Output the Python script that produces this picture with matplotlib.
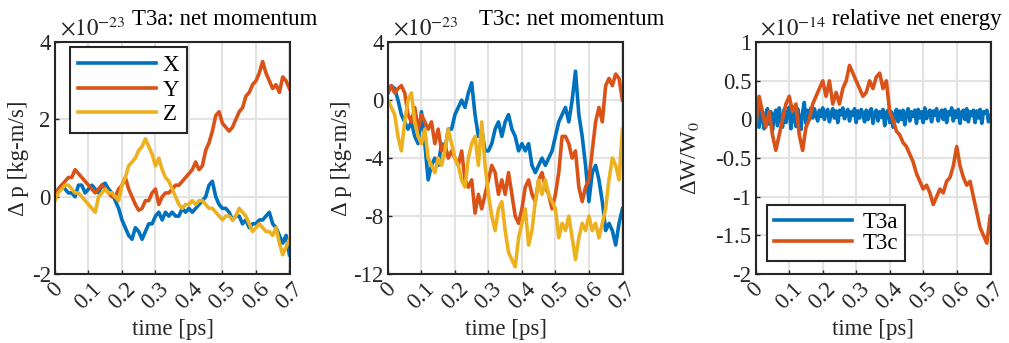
import numpy as np
import matplotlib
matplotlib.use('Agg')
import matplotlib.pyplot as plt

plt.rcParams['font.family'] = ['Liberation Serif', 'DejaVu Serif']
plt.rcParams['mathtext.fontset'] = 'stix'
plt.rcParams['axes.unicode_minus'] = False

# time axis [ps], samples every 0.01 ps (energy of T3a: every 0.005 ps)
t = np.round(np.arange(71) * 0.01, 2)
t_fine = np.round(np.arange(141) * 0.005, 3)
t_ticks = [0, 0.1, 0.2, 0.3, 0.4, 0.5, 0.6, 0.7]
t_labels = ['0', '0.1', '0.2', '0.3', '0.4', '0.5', '0.6', '0.7']

# T3a net momentum (x1e-23 kg-m/s)
t3a_x = [0.0, 0.2, 0.3, 0.2, 0.1, 0.1, 0.0, 0.3, 0.3, 0.1,
         0.2, 0.3, 0.2, 0.1, 0.3, 0.35, 0.2, 0.1, -0.1, -0.3,
         -0.6, -0.8, -1.0, -1.1, -0.8, -0.9, -1.1, -0.9, -0.7, -0.7,
         -0.5, -0.4, -0.6, -0.4, -0.5, -0.4, -0.5, -0.5, -0.3, -0.4,
         -0.3, -0.4, -0.3, -0.2, -0.1, 0.0, 0.3, 0.4, 0.0, -0.2,
         -0.3, -0.3, -0.4, -0.6, -0.5, -0.5, -0.7, -0.6, -0.8, -0.7,
         -0.7, -0.6, -0.6, -0.5, -0.4, -0.7, -0.8, -1.0, -1.2, -1.0, -1.5]
t3a_y = [0.0, 0.2, 0.3, 0.4, 0.5, 0.5, 0.7, 0.6, 0.5, 0.4,
         0.3, 0.2, 0.1, 0.2, 0.3, 0.2, 0.1, 0.0, 0.0, 0.2,
         0.3, 0.5, 0.2, 0.0, -0.2, -0.35, -0.3, -0.1, -0.1, 0.1,
         0.2, -0.2, 0.0, 0.1, 0.1, 0.2, 0.3, 0.3, 0.4, 0.5,
         0.6, 0.7, 0.9, 0.7, 0.8, 1.2, 1.4, 1.7, 2.1, 2.2,
         1.9, 1.8, 1.7, 1.8, 2.0, 2.2, 2.3, 2.6, 2.7, 2.9,
         3.0, 3.2, 3.5, 3.2, 3.0, 2.8, 2.9, 2.7, 3.1, 3.0, 2.8]
t3a_z = [-0.1, 0.1, 0.2, 0.3, 0.3, 0.2, 0.1, 0.1, 0.0, -0.1,
         -0.2, -0.3, -0.4, 0.0, 0.1, 0.2, 0.1, 0.1, 0.0, -0.1,
         0.3, 0.5, 0.8, 0.9, 1.0, 1.2, 1.3, 1.5, 1.3, 1.1,
         0.8, 1.0, 0.7, 0.5, 0.4, 0.2, 0.0, -0.2, -0.3, -0.2,
         -0.2, -0.1, -0.2, -0.1, -0.1, -0.2, -0.3, -0.3, -0.4, -0.5,
         -0.6, -0.5, -0.5, -0.6, -0.5, -0.3, -0.4, -0.5, -0.7, -0.9,
         -0.8, -0.7, -0.8, -0.9, -0.9, -1.0, -0.8, -1.2, -1.5, -1.3, -1.1]

# T3c net momentum (x1e-23 kg-m/s)
t3c_x = [0.5, 1.0, 0.8, 0.0, -1.0, -1.5, -2.0, -1.5, -2.5, -3.0,
         -0.8, -3.0, -5.5, -4.5, -4.0, -4.5, -3.0, -3.5, -2.0, -2.0,
         -1.0, -0.5, 0.0, -0.5, 0.5, 1.2, -1.0, -2.5, -2.0, -3.5,
         -3.5, -3.0, -2.0, -1.5, -2.5, -1.5, -1.0, -2.0, -2.5, -3.5,
         -3.0, -3.5, -3.0, -4.5, -5.0, -4.5, -4.0, -4.5, -4.0, -3.5,
         -2.5, -1.5, -1.0, -0.5, -1.5, 0.0, 2.0, -1.0, -2.5, -4.5,
         -7.0, -5.0, -4.5, -5.5, -7.0, -9.0, -8.5, -9.0, -10.0, -8.5, -7.5]
t3c_y = [0.5, 1.0, 0.5, 0.8, 1.0, 0.5, -1.0, -1.5, -0.5, -2.0,
         -1.0, -1.5, -2.0, -1.5, -3.0, -2.0, -3.5, -3.0, -4.0, -3.5,
         -4.0, -4.5, -3.5, -5.5, -6.0, -5.5, -7.8, -6.5, -7.5, -6.5,
         -5.5, -4.5, -5.0, -6.5, -5.5, -6.5, -5.0, -6.5, -8.0, -8.5,
         -7.5, -6.0, -5.5, -6.5, -7.0, -5.5, -5.0, -6.0, -6.5, -7.5,
         -6.5, -5.0, -2.5, -2.5, -3.0, -4.0, -3.5, -6.0, -7.0, -6.0,
         -5.5, -3.5, -1.5, -0.5, -1.5, 1.0, 1.5, 1.0, 1.8, 1.5, 0.0]
t3c_z = [0.0, -0.5, -1.0, -2.5, -3.5, -1.5, 0.0, 0.5, -1.5, -2.5,
         -3.0, -2.0, -4.0, -4.5, -5.0, -4.0, -4.5, -3.5, -2.0, -3.0,
         -4.0, -4.5, -5.5, -6.0, -4.0, -3.0, -2.5, -4.5, -1.5, -4.5,
         -6.5, -8.0, -9.0, -7.5, -7.0, -9.0, -10.5, -11.0, -11.5, -9.5,
         -8.5, -7.5, -10.0, -9.0, -7.0, -5.5, -6.5, -5.5, -6.5, -7.0,
         -7.5, -9.5, -8.5, -9.0, -8.0, -9.5, -11.0, -9.5, -8.5, -9.0,
         -8.0, -9.0, -8.5, -9.5, -8.5, -7.5, -5.5, -4.0, -4.5, -5.5, -2.0]

# relative net energy (x1e-14)
energy_t3a = [0.0, 0.1, -0.1, 0.15, 0.02, -0.12, 0.08, 0.14, -0.06, 0.1,
              -0.14, 0.05, 0.12, -0.08, 0.15, 0.0, -0.1, 0.13, -0.04, 0.1,
              0.16, -0.12, 0.04, 0.11, -0.09, 0.14, 0.02, -0.13, 0.1, 0.22,
              -0.05, 0.12, 0.0, 0.15,
              0.02, 0.14, 0.06, -0.02, 0.12, 0.04, 0.15, 0.0, 0.1, 0.13,
              -0.03, 0.08, 0.14, 0.02, 0.11, -0.04, 0.12, 0.06, 0.15, 0.01,
              0.09, 0.13, -0.02, 0.1, 0.05, 0.14, -0.04, 0.11, 0.02, 0.13,
              0.07, -0.03, 0.12, 0.0, 0.1, 0.14, -0.05, 0.08, 0.12, -0.02,
              0.1, 0.03, 0.13, -0.08, 0.09, 0.12, -0.04, 0.1, -0.1, 0.06,
              0.13, -0.03, 0.11, 0.0, 0.12, -0.07, 0.08, 0.14, -0.02, 0.1,
              0.04, 0.12, -0.05, 0.13, 0.02, 0.1, -0.04, 0.15, 0.01, 0.09,
              0.12, -0.03, 0.11, 0.05, 0.14, -0.02, 0.08, 0.12, 0.0, 0.13,
              -0.04, 0.1, 0.06, 0.15, -0.02, 0.11, 0.03, 0.13, -0.05, 0.09,
              0.12, 0.0, 0.14, -0.03, 0.1, 0.05, 0.12, -0.04, 0.11, 0.02,
              0.13, -0.05, 0.1, 0.08, 0.12, -0.03, 0.05]
energy_t3c = [-0.1, 0.3, 0.1, -0.1, 0.1, -0.2, -0.4, -0.2, 0.0, 0.2,
              0.3, 0.1, 0.2, -0.2, -0.4, -0.1, 0.0, 0.2, 0.3, 0.4,
              0.5, 0.3, 0.5, 0.2, 0.35, 0.2, 0.4, 0.5, 0.7, 0.6,
              0.5, 0.4, 0.3, 0.35, 0.5, 0.4, 0.55, 0.6, 0.4, 0.5,
              0.1, 0.0, -0.15, -0.2, -0.3, -0.35, -0.45, -0.55, -0.7, -0.8,
              -0.9, -0.85, -0.95, -1.1, -1.0, -0.9, -0.95, -0.8, -0.75, -0.6,
              -0.35, -0.6, -0.75, -0.85, -0.8, -1.0, -1.2, -1.4, -1.5, -1.6, -1.25]

blue, red, yellow = '#0072BD', '#D95319', '#EDB120'
fs = 16.5
ink = '#262626'
lw = 2.6

fig = plt.figure(figsize=(10.09, 3.43), dpi=100)
ax1 = fig.add_axes([0.0545, 0.201, 0.233, 0.676])
ax2 = fig.add_axes([0.3845, 0.201, 0.233, 0.676])
ax3 = fig.add_axes([0.749, 0.201, 0.233, 0.676])


def style(ax, yticks, ylabels, ylim, exponent, title, title_x):
    ax.set_xlim(0, 0.702)
    ax.set_ylim(*ylim)
    ax.set_xticks(t_ticks)
    ax.set_xticklabels(t_labels, rotation=45, ha='center')
    ax.set_yticks(yticks)
    ax.set_yticklabels(ylabels)
    ax.tick_params(direction='in', length=3, width=1, labelsize=fs,
                   colors=ink, pad=3)
    ax.grid(True, color='#e3e3e3', linewidth=1.5)
    ax.set_axisbelow(True)
    for s in ax.spines.values():
        s.set_linewidth(1.5)
        s.set_color(ink)
    ax.set_xlabel('time [ps]', fontsize=fs, color=ink, labelpad=4)
    ax.text(0.02, 1.03, exponent, transform=ax.transAxes, fontsize=fs,
            ha='left', va='baseline', color=ink)
    ax.text(title_x, 1.073, title, transform=ax.transAxes, fontsize=fs,
            ha='center', va='baseline', color='black')


ax1.plot(t, t3a_x, color=blue, lw=lw, label='X')
ax1.plot(t, t3a_y, color=red, lw=lw, label='Y')
ax1.plot(t, t3a_z, color=yellow, lw=lw, label='Z')
style(ax1, [-2, 0, 2, 4], ['-2', '0', '2', '4'], (-2, 4),
      r'$\times10^{-23}$', 'T3a: net momentum', 0.72)
ax1.set_ylabel('Δ p [kg-m/s]', fontsize=fs, color=ink, labelpad=2)
leg1 = ax1.legend(loc='upper left', bbox_to_anchor=(0.064, 0.978),
                  borderaxespad=0, fancybox=False, edgecolor=ink,
                  framealpha=1, fontsize=fs, handlelength=3.4,
                  labelspacing=0.15, handletextpad=0.3, borderpad=0.35)
leg1.get_frame().set_linewidth(1.5)

ax2.plot(t, t3c_x, color=blue, lw=lw)
ax2.plot(t, t3c_y, color=red, lw=lw)
ax2.plot(t, t3c_z, color=yellow, lw=lw)
style(ax2, [-12, -8, -4, 0, 4], ['-12', '-8', '-4', '0', '4'], (-12, 4),
      r'$\times10^{-23}$', 'T3c: net momentum', 0.78)
ax2.set_ylabel('Δ p [kg-m/s]', fontsize=fs, color=ink, labelpad=1)

ax3.plot(t_fine, energy_t3a, color=blue, lw=lw, label='T3a')
ax3.plot(t, energy_t3c, color=red, lw=lw, label='T3c')
style(ax3, [-2, -1.5, -1, -0.5, 0, 0.5, 1],
      ['-2', '-1.5', '-1', '-0.5', '0', '0.5', '1'], (-2, 1),
      r'$\times10^{-14}$', 'relative net energy', 0.685)
ax3.set_ylabel('ΔW/W$_0$', fontsize=fs, color=ink, labelpad=10)
leg3 = ax3.legend(loc='lower left', bbox_to_anchor=(0.047, 0.056),
                  borderaxespad=0, fancybox=False, edgecolor=ink,
                  framealpha=1, fontsize=fs, handlelength=3.4,
                  labelspacing=0.0, handletextpad=0.5, borderpad=0.3)
leg3.get_frame().set_linewidth(1.5)

fig.savefig('out.png', dpi=100)
